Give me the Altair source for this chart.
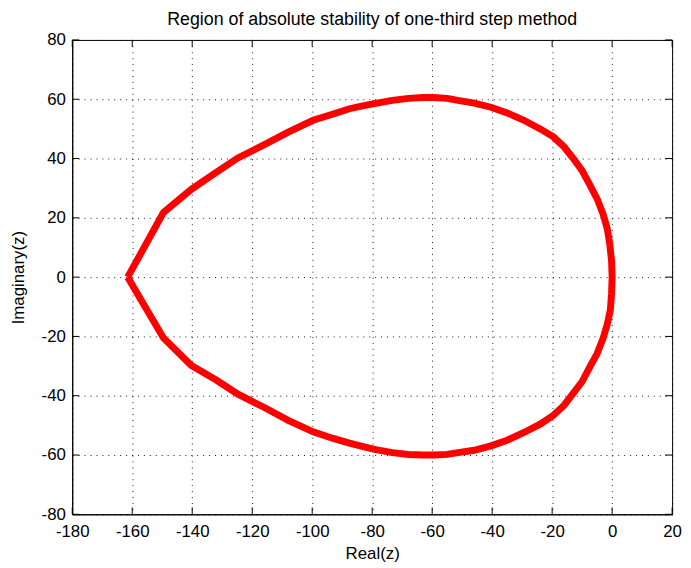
import altair as alt
import pandas as pd

# Boundary of the stability region, traced from the
# left vertex over the upper half to the origin and back over the lower half.
upper_re = [-161.5, -149.6, -140.3, -132.0, -124.9, -116.1, -108.0, -99.7, -93.0, -87.6,
            -82.0, -78.8, -73.3, -67.9, -63.0, -59.6, -55.0, -51.4, -46.0, -40.4,
            -35.0, -29.4, -24.0, -19.6, -16.0, -13.0, -10.0, -7.5, -5.0, -3.0,
            -1.6, -0.8, -0.2, 0.0]
upper_im = [0.0, 21.8, 29.6, 35.3, 40.1, 44.6, 48.9, 52.9, 55.0, 56.8,
            58.0, 58.6, 59.6, 60.3, 60.6, 60.6, 60.3, 59.6, 58.7, 57.3,
            55.4, 52.9, 50.0, 47.3, 43.9, 40.1, 35.9, 31.2, 26.4, 21.2,
            16.2, 11.2, 5.6, 0.0]
lower_re = [-0.2, -0.6, -1.6, -3.0, -5.0, -7.5, -10.0, -13.0, -16.0, -19.6,
            -24.0, -29.4, -35.0, -40.4, -46.0, -51.4, -55.0, -59.6, -63.0, -67.9,
            -73.3, -78.8, -82.0, -87.6, -93.0, -99.7, -108.0, -116.1, -124.9, -132.0,
            -140.3, -149.6, -161.5]
lower_im = [-5.6, -11.1, -15.8, -20.6, -25.8, -30.4, -35.2, -39.2, -43.2, -46.6,
            -49.6, -52.4, -55.0, -56.9, -58.4, -59.2, -59.8, -60.0, -60.0, -59.8,
            -59.2, -58.2, -57.4, -56.0, -54.4, -52.2, -48.3, -43.9, -39.4, -34.7,
            -29.8, -20.5, 0.0]

x_ticks = [-180, -160, -140, -120, -100, -80, -60, -40, -20, 0, 20]
y_ticks = [-80, -60, -40, -20, 0, 20, 40, 60, 80]

re_vals = upper_re + lower_re
im_vals = upper_im + lower_im
curve = pd.DataFrame({"re": re_vals, "im": im_vals, "i": list(range(len(re_vals)))})
xt = pd.DataFrame({"re": x_ticks})
yt = pd.DataFrame({"im": y_ticks})

W, H = 607, 480
FONT = "Liberation Sans"
FS = 17

common = dict(
    labelFont=FONT, labelFontSize=FS, labelColor="black",
    titleFont=FONT, titleFontSize=FS, titleFontWeight="normal", titleColor="black",
    ticks=False, domain=True, domainColor="black", domainWidth=1,
    grid=True, gridColor="black", gridDash=[1, 5], gridWidth=1, gridOpacity=0.9,
    labelFlush=False, labelOverlap=False, labelExpr="replace(datum.label, '−', '-')",
)

xscale = alt.Scale(domain=[-180, 20], nice=False, zero=False)
yscale = alt.Scale(domain=[-80, 80], nice=False, zero=False)

X = alt.X("re:Q", scale=xscale, title="Real(z)",
          axis=alt.Axis(values=x_ticks, format="d", labelPadding=9, titlePadding=7, **common))
Y = alt.Y("im:Q", scale=yscale, title="Imaginary(z)",
          axis=alt.Axis(values=y_ticks, format="d", labelPadding=7, titleX=-45, titleY=H / 2,
                        **common))

line = alt.Chart(curve).mark_line(color="#ff0000", strokeWidth=7, strokeJoin="miter").encode(
    x=X, y=Y, order="i:Q",
)

tick_len = 7
bx = alt.Chart(xt).mark_rule(color="black", strokeWidth=1).encode(
    x=X, y=alt.value(H), y2=alt.value(H - tick_len))
tx = alt.Chart(xt).mark_rule(color="black", strokeWidth=1).encode(
    x=X, y=alt.value(0), y2=alt.value(tick_len))
ly = alt.Chart(yt).mark_rule(color="black", strokeWidth=1).encode(
    y=Y, x=alt.value(0), x2=alt.value(tick_len))
ry = alt.Chart(yt).mark_rule(color="black", strokeWidth=1).encode(
    y=Y, x=alt.value(W), x2=alt.value(W - tick_len))

chart = alt.layer(line, bx, tx, ly, ry).properties(
    width=W, height=H,
    background="white",
    title=alt.TitleParams("Region of absolute stability of one-third step method",
                          font=FONT, fontSize=18, fontWeight="normal", color="black",
                          offset=2, anchor="middle"),
    autosize=alt.AutoSizeParams(type="none"),
    padding={"left": 65, "top": 29, "right": 11, "bottom": 51},
).configure_view(
    stroke="black", strokeWidth=1
)

chart.save("out.html", embed_options={"renderer": "svg", "actions": False})
